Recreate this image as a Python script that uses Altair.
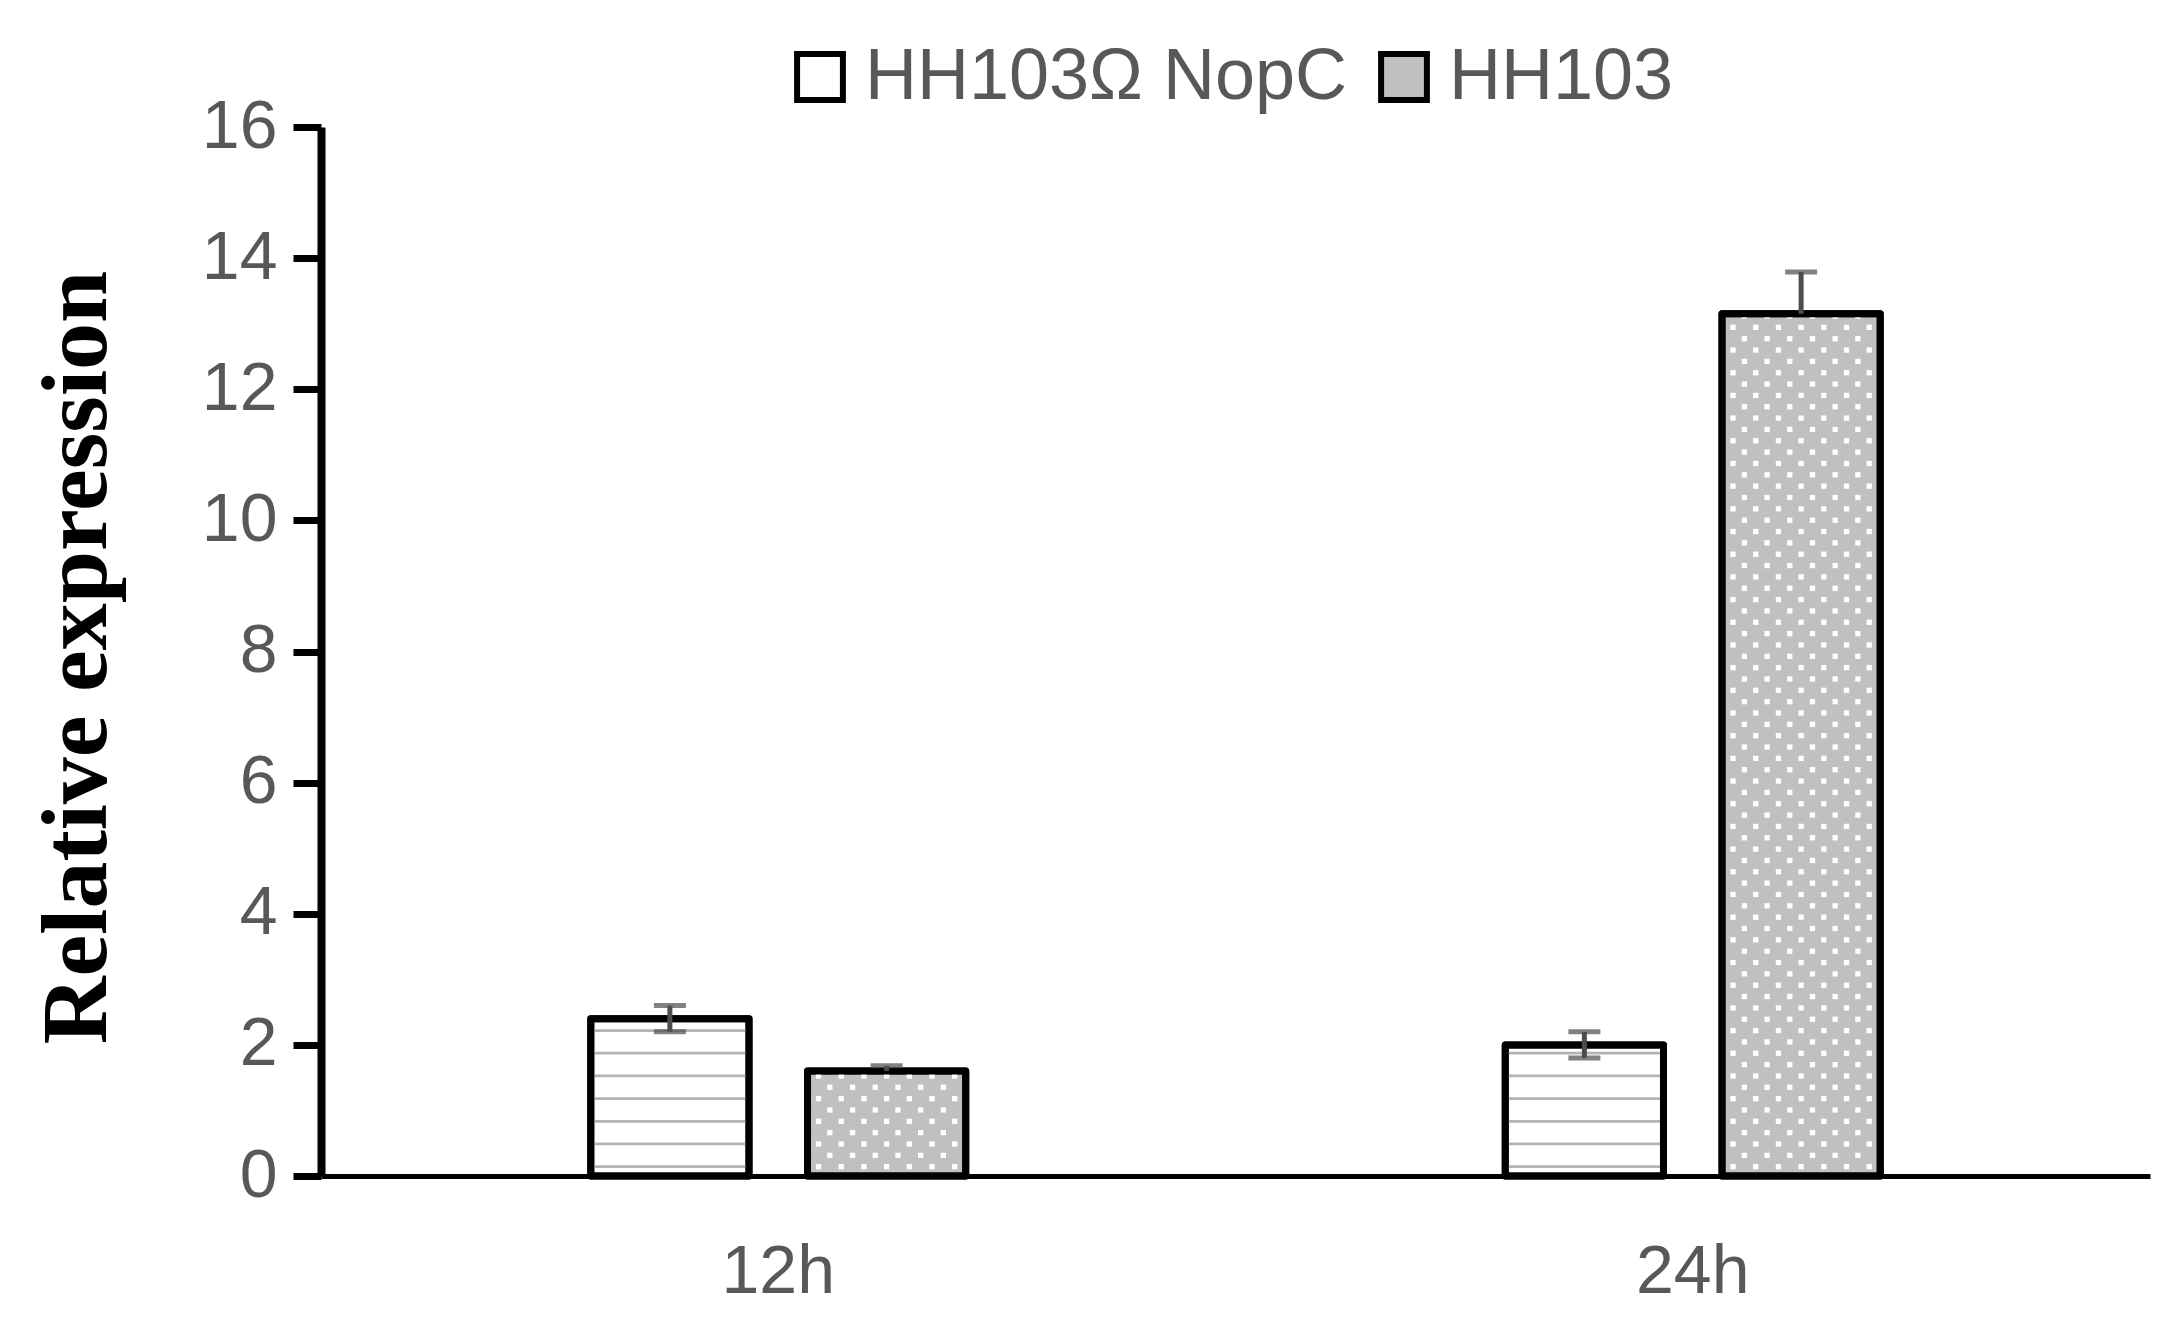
import altair as alt
import pandas as pd

categories = ["12h", "24h"]
series = ["HH103Ω NopC", "HH103"]
nopc_values = [2.4, 2.0]
nopc_err_up = [0.2, 0.2]
nopc_err_down = [0.2, 0.2]
hh103_values = [1.6, 13.15]
hh103_err_up = [0.08, 0.64]
hh103_err_down = [0.0, 0.0]
y_ticks = [0, 2, 4, 6, 8, 10, 12, 14, 16]

rows = []
for i, c in enumerate(categories):
    rows.append(dict(cat=c, series=series[0], value=nopc_values[i],
                     up=nopc_err_up[i], down=nopc_err_down[i]))
    rows.append(dict(cat=c, series=series[1], value=hh103_values[i],
                     up=hh103_err_up[i], down=hh103_err_down[i]))
df = pd.DataFrame(rows)
df["hi"] = df["value"] + df["up"]
df["lo"] = df["value"] - df["down"]

GRAY_TXT = "#585858"
SANS = "Liberation Sans"

# layout of the band scales
W, H = 1829, 1049
PI_X, PO_X = 0.526, 0.263
PI_O, PO_O = 0.27, 0.135
step_x = W / (len(categories) - PI_X + 2 * PO_X)
bw_x = step_x * (1 - PI_X)
step_o = bw_x / (len(series) - PI_O + 2 * PO_O)
bw_o = step_o * (1 - PI_O)
hh_center = step_o * (PO_O + 1) + bw_o / 2  # centre of 2nd series inside the group

y_axis = alt.Axis(values=y_ticks, grid=False, title="Relative expression",
                  titleFont="Liberation Serif", titleFontWeight="bold",
                  titleFontSize=94, titleColor="black", titleAngle=-90,
                  titleX=-244, titleY=530, titleAlign="center",
                  titleBaseline="middle",
                  labelFontSize=68, labelFont=SANS, labelColor=GRAY_TXT,
                  labelPadding=16, tickSize=28, tickWidth=7, tickColor="black",
                  domainColor="black", domainWidth=8)
x_enc = alt.X("cat:N",
              scale=alt.Scale(domain=categories, paddingInner=PI_X, paddingOuter=PO_X),
              axis=alt.Axis(title=None, labelAngle=0, labelFontSize=68, labelFont=SANS,
                            labelColor=GRAY_TXT, labelPadding=62, ticks=False,
                            domainColor="black", domainWidth=5))
xo_enc = alt.XOffset("series:N",
                     scale=alt.Scale(domain=series, paddingInner=PI_O, paddingOuter=PO_O))
yscale = alt.Scale(domain=[0, 16], nice=False)


def yenc(field):
    return alt.Y(field, scale=yscale, axis=y_axis)


base = alt.Chart(df)

bars = base.mark_bar(stroke="black", strokeWidth=7, strokeJoin="round").encode(
    x=x_enc,
    xOffset=xo_enc,
    y=yenc("value:Q"),
    color=alt.Color("series:N",
                    scale=alt.Scale(domain=series, range=["white", "#c0c0c0"]),
                    legend=alt.Legend(orient="none", legendX=463, legendY=-86,
                                      direction="horizontal", title=None,
                                      symbolType="square", symbolSize=2100,
                                      symbolStrokeColor="black", symbolStrokeWidth=6,
                                      labelFontSize=72, labelFont=SANS,
                                      labelColor=GRAY_TXT, labelOffset=9,
                                      labelLimit=1000, columnPadding=20)),
)

stripes = base.transform_filter(alt.datum.series == series[0]).transform_calculate(
    s="sequence(0.122, datum.value - 0.05, 0.346)"
).transform_flatten(["s"]).transform_calculate(
    s2="datum.s + 0.042"
).mark_bar(color="#b3b3b3").encode(
    x=x_enc, xOffset=xo_enc,
    y=yenc("s:Q"),
    y2="s2:Q",
)

DOT_STEP = 22.7
dots = base.transform_filter(alt.datum.series == series[1]).transform_calculate(
    k="sequence(0, floor((datum.value - 0.142) / 0.173) + 1)"
).transform_flatten(["k"]).transform_calculate(
    c="sequence(0, 7)"
).transform_flatten(["c"]).transform_filter(
    "datum.k % 2 == 0 || datum.c < 6"
).transform_calculate(
    ry="0.142 + datum.k * 0.173",
    px=f"{hh_center} + (datum.k % 2 == 0 ? (datum.c - 3) : (datum.c - 2.5)) * {DOT_STEP}",
).mark_square(color="white", size=28, opacity=1, filled=True).encode(
    x=x_enc,
    xOffset=alt.XOffset("px:Q", scale=alt.Scale(domain=[0, bw_x], range=[0, bw_x])),
    y=yenc("ry:Q"),
)

outline = base.mark_bar(fill="white", fillOpacity=0, stroke="black", strokeWidth=7,
                        strokeJoin="round").encode(
    x=x_enc, xOffset=xo_enc,
    y=yenc("value:Q"),
)

stems = base.mark_rule(color="#4d4d4d", strokeWidth=5).encode(
    x=x_enc, xOffset=xo_enc,
    y=yenc("lo:Q"),
    y2="hi:Q",
)

caps_hi = base.mark_tick(color="#4d4d4d", size=32, thickness=5).encode(
    x=x_enc, xOffset=xo_enc,
    y=yenc("hi:Q"),
)

caps_lo = base.transform_filter(alt.datum.down > 0).mark_tick(
    color="#4d4d4d", size=32, thickness=5).encode(
    x=x_enc, xOffset=xo_enc,
    y=yenc("lo:Q"),
)

chart = alt.layer(bars, stripes, dots, outline, stems, caps_hi, caps_lo).resolve_scale(
    xOffset="independent"
).properties(
    width=W, height=H,
    autosize=alt.AutoSizeParams(type="none"),
    padding={"left": 313, "top": 119, "right": 24, "bottom": 130},
    view=alt.ViewBackground(stroke="transparent", strokeWidth=0),
).configure_view(stroke="transparent", strokeWidth=0).configure(background="white")

chart.save("out.html", embed_options={"renderer": "svg", "actions": False})
